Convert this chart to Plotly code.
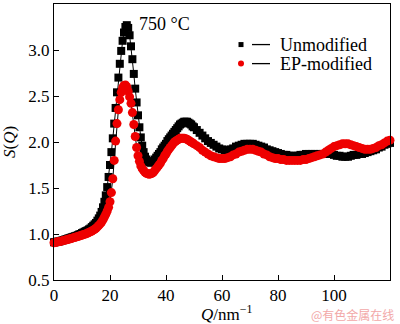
import plotly.graph_objects as go

# Scattering vector Q (nm^-1): 0.5 steps through the main peaks, 1.0 steps beyond
q = [
    0.0, 0.5, 1.0, 1.5, 2.0, 2.5, 3.0, 3.5, 4.0, 4.5, 5.0, 5.5, 6.0, 6.5, 7.0, 7.5, 8.0, 8.5, 9.0, 9.5,
    10.0, 10.5, 11.0, 11.5, 12.0, 12.5, 13.0, 13.5, 14.0, 14.5, 15.0, 15.5, 16.0, 16.5, 17.0, 17.5, 18.0, 18.5, 19.0, 19.5,
    20.0, 20.5, 21.0, 21.5, 22.0, 22.5, 23.0, 23.5, 24.0, 24.5, 25.0, 25.5, 26.0, 26.5, 27.0, 27.5, 28.0, 28.5, 29.0, 29.5,
    30.0, 30.5, 31.0, 31.5, 32.0, 32.5, 33.0, 33.5, 34.0, 34.5, 35.0, 35.5, 36.0, 36.5, 37.0, 37.5, 38.0, 38.5, 39.0, 39.5,
    40.0, 40.5, 41.0, 41.5, 42.0, 42.5, 43.0, 43.5, 44.0, 44.5, 45.0, 45.5, 46.0, 46.5, 47.0, 47.5, 48.0, 48.5, 49.0, 49.5,
    50, 51, 52, 53, 54, 55, 56, 57, 58, 59, 60, 61, 62, 63, 64, 65, 66, 67, 68, 69,
    70, 71, 72, 73, 74, 75, 76, 77, 78, 79, 80, 81, 82, 83, 84, 85, 86, 87, 88, 89,
    90, 91, 92, 93, 94, 95, 96, 97, 98, 99, 100, 101, 102, 103, 104, 105, 106, 107, 108, 109,
    110, 111, 112, 113, 114, 115, 116, 117, 118, 119, 120,
]

# Structure factor S(Q), unmodified melt
s_unmodified = [
    0.910, 0.912, 0.915, 0.918, 0.920, 0.925, 0.930, 0.935, 0.940, 0.945, 0.950, 0.955, 0.960, 0.965, 0.970, 0.975, 0.980, 0.987, 0.995, 1.000,
    1.010, 1.017, 1.025, 1.032, 1.040, 1.050, 1.060, 1.075, 1.090, 1.105, 1.120, 1.145, 1.170, 1.200, 1.240, 1.290, 1.350, 1.420, 1.510, 1.620,
    1.750, 1.890, 2.040, 2.200, 2.370, 2.540, 2.700, 2.850, 2.990, 3.100, 3.190, 3.250, 3.270, 3.240, 3.160, 3.040, 2.900, 2.740, 2.580, 2.430,
    2.290, 2.160, 2.050, 1.960, 1.890, 1.840, 1.810, 1.790, 1.780, 1.775, 1.780, 1.790, 1.810, 1.830, 1.850, 1.870, 1.890, 1.920, 1.940, 1.960,
    1.980, 2.010, 2.030, 2.050, 2.070, 2.090, 2.110, 2.130, 2.150, 2.170, 2.190, 2.200, 2.210, 2.220, 2.220, 2.220, 2.210, 2.200, 2.190, 2.170,
    2.160, 2.130, 2.100, 2.070, 2.040, 2.010, 1.990, 1.970, 1.950, 1.930, 1.920, 1.910, 1.910, 1.920, 1.930, 1.950, 1.960, 1.970, 1.980, 1.980,
    1.980, 1.980, 1.970, 1.960, 1.950, 1.940, 1.920, 1.910, 1.900, 1.890, 1.880, 1.870, 1.860, 1.860, 1.850, 1.850, 1.850, 1.850, 1.860, 1.860,
    1.870, 1.870, 1.870, 1.870, 1.870, 1.870, 1.870, 1.870, 1.870, 1.870, 1.860, 1.850, 1.850, 1.840, 1.840, 1.840, 1.850, 1.860, 1.860, 1.870,
    1.870, 1.880, 1.890, 1.900, 1.910, 1.920, 1.940, 1.950, 1.970, 1.980, 1.990,
]

# Structure factor S(Q), EP-modified melt
s_ep_modified = [
    0.905, 0.908, 0.912, 0.915, 0.918, 0.922, 0.926, 0.930, 0.934, 0.938, 0.942, 0.946, 0.950, 0.955, 0.960, 0.964, 0.968, 0.973, 0.978, 0.983,
    0.988, 0.993, 0.998, 1.003, 1.010, 1.017, 1.025, 1.033, 1.042, 1.052, 1.063, 1.077, 1.093, 1.110, 1.130, 1.155, 1.185, 1.215, 1.250, 1.290,
    1.350, 1.450, 1.600, 1.800, 2.010, 2.200, 2.350, 2.460, 2.540, 2.590, 2.615, 2.620, 2.600, 2.550, 2.490, 2.420, 2.320, 2.190, 2.060, 1.940,
    1.850, 1.790, 1.740, 1.710, 1.690, 1.670, 1.660, 1.655, 1.650, 1.655, 1.660, 1.670, 1.690, 1.710, 1.730, 1.750, 1.770, 1.800, 1.820, 1.850,
    1.870, 1.900, 1.920, 1.940, 1.960, 1.980, 2.000, 2.010, 2.020, 2.030, 2.040, 2.040, 2.040, 2.040, 2.035, 2.030, 2.020, 2.010, 2.000, 1.990,
    1.980, 1.960, 1.940, 1.910, 1.890, 1.870, 1.850, 1.840, 1.830, 1.820, 1.820, 1.820, 1.830, 1.840, 1.860, 1.870, 1.890, 1.900, 1.910, 1.920,
    1.920, 1.920, 1.910, 1.900, 1.890, 1.870, 1.860, 1.840, 1.830, 1.820, 1.820, 1.810, 1.810, 1.800, 1.800, 1.800, 1.800, 1.800, 1.800, 1.810,
    1.810, 1.820, 1.830, 1.840, 1.850, 1.860, 1.870, 1.890, 1.910, 1.930, 1.950, 1.960, 1.970, 1.980, 1.980, 1.980, 1.970, 1.960, 1.950, 1.940,
    1.930, 1.920, 1.920, 1.920, 1.930, 1.940, 1.960, 1.970, 1.990, 2.010, 2.020,
]

x_ticks = [0, 20, 40, 60, 80, 100, 120]
y_ticks = [0.5, 1.0, 1.5, 2.0, 2.5, 3.0, 3.5]
series_names = ["Unmodified", "EP-modified"]

SERIF = "Liberation Serif"

fig = go.Figure()
fig.add_trace(go.Scatter(
    x=q, y=s_unmodified, mode="lines+markers", name=series_names[0],
    line=dict(color="black", width=1),
    marker=dict(symbol="square", size=8, color="black"),
    cliponaxis=False, showlegend=False,
))
fig.add_trace(go.Scatter(
    x=q, y=s_ep_modified, mode="lines+markers", name=series_names[1],
    line=dict(color="black", width=1),
    marker=dict(symbol="circle", size=9, color="#ee0000"),
    cliponaxis=False, showlegend=False,
))

fig.update_layout(
    xaxis=dict(
        range=[0, 120], tickmode="array", tickvals=x_ticks,
        ticktext=[str(v) for v in x_ticks],
        showline=True, linecolor="black", linewidth=1, mirror=True,
        ticks="inside", ticklen=5, tickwidth=1, tickcolor="black",
        showgrid=False, zeroline=False,
        tickfont=dict(family=SERIF, size=17, color="black"),
    ),
    yaxis=dict(
        range=[0.5, 3.5], tickmode="array", tickvals=y_ticks,
        ticktext=[f"{v:.1f}" for v in y_ticks],
        showline=True, linecolor="black", linewidth=1, mirror=True,
        ticks="inside", ticklen=5, tickwidth=1, tickcolor="black",
        showgrid=False, zeroline=False,
        tickfont=dict(family=SERIF, size=17, color="black"),
    ),
)

# Hand-built legend: marker, short line, label
legend_rows = [(0.853, "square", "black", series_names[0]),
               (0.784, "circle", "#ee0000", series_names[1])]
for yp, sym, col, label in legend_rows:
    x0 = (241 - 54) / 336
    if sym == "square":
        fig.add_shape(type="rect", xref="paper", yref="paper",
                      x0=x0 - 2.5 / 336, x1=x0 + 2.5 / 336,
                      y0=yp - 2.5 / 276, y1=yp + 2.5 / 276,
                      fillcolor=col, line=dict(width=0))
    else:
        fig.add_shape(type="circle", xref="paper", yref="paper",
                      x0=x0 - 3 / 336, x1=x0 + 3 / 336,
                      y0=yp - 3 / 276, y1=yp + 3 / 276,
                      fillcolor=col, line=dict(width=0))
    fig.add_shape(type="line", xref="paper", yref="paper",
                  x0=(252 - 54) / 336, x1=(270 - 54) / 336, y0=yp, y1=yp,
                  line=dict(color="black", width=1.3))
    fig.add_annotation(xref="paper", yref="paper", x=(278 - 54) / 336, y=yp,
                       text=label, showarrow=False, xanchor="left", yanchor="middle",
                       font=dict(family=SERIF, size=18, color="black"))

# Temperature label
fig.add_annotation(xref="paper", yref="paper", x=(137 - 54) / 336, y=(280 - 24) / 276,
                   text="750 °C", showarrow=False, xanchor="left", yanchor="middle",
                   font=dict(family=SERIF, size=18, color="black"))

# Axis titles
fig.add_annotation(xref="paper", yref="paper", x=(227 - 54) / 336, y=(280 - 313) / 276,
                   text="<i>Q</i>/nm<sup>−1</sup>", showarrow=False,
                   xanchor="center", yanchor="middle",
                   font=dict(family=SERIF, size=17, color="black"))
fig.add_annotation(xref="paper", yref="paper", x=(9 - 54) / 336, y=(280 - 142) / 276,
                   text="<i>S</i>(<i>Q</i>)", showarrow=False, textangle=-90,
                   xanchor="center", yanchor="middle",
                   font=dict(family=SERIF, size=17, color="black"))

# Source mark
fig.add_annotation(xref="paper", yref="paper", x=(396 - 54) / 336, y=(280 - 314) / 276,
                   text="@有色金属在线", showarrow=False, xanchor="right", yanchor="middle",
                   font=dict(family="Noto Sans CJK SC", size=12, color="#f2a8a8"))

fig.update_layout(
    width=400, height=324,
    margin=dict(l=54, r=10, t=4, b=44),
    paper_bgcolor="white", plot_bgcolor="white",
    font=dict(family=SERIF, size=17, color="black"),
    showlegend=False,
)

fig.write_html("out.html")
